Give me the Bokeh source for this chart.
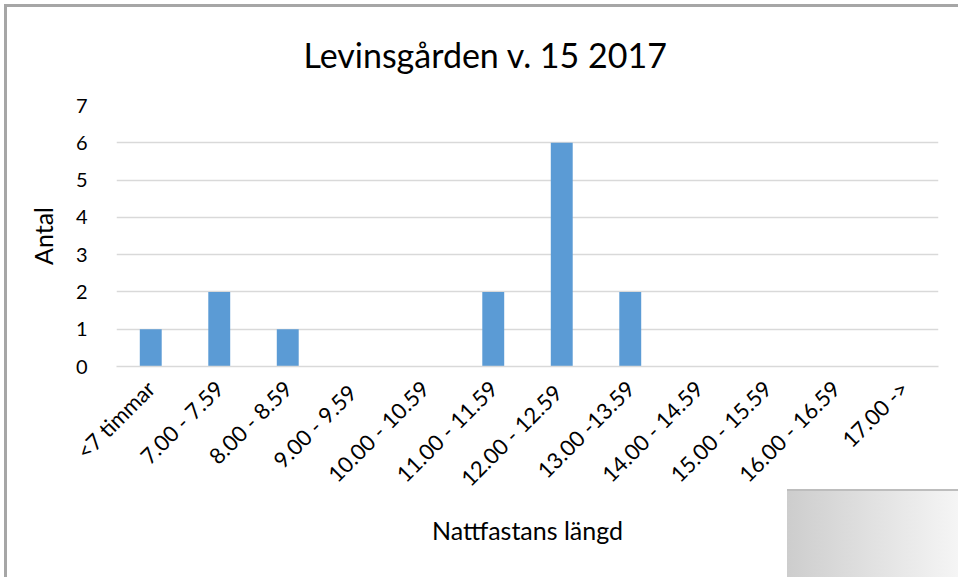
import math
from bokeh.plotting import figure
from bokeh.models import FactorRange, Range1d, FixedTicker
from bokeh.embed import file_html
from bokeh.resources import INLINE

categories = ["<7 timmar", "7.00 - 7.59", "8.00 - 8.59", "9.00 -  9.59", "10.00 - 10.59",
              "11.00 - 11.59", "12.00  - 12.59", "13.00 -13.59", "14.00 - 14.59",
              "15.00 - 15.59", "16.00 - 16.59", "17.00 ->"]
counts = [1, 2, 1, 0, 0, 2, 6, 2, 0, 0, 0, 0]
y_ticks = [0, 1, 2, 3, 4, 5, 6, 7]
title_text = "Levinsgården  v. 15 2017"
x_label = "Nattfastans längd"
y_label = "Antal"

FONT = "Lato"
W, H = 958, 577
FL, FR, FT, FB = 116, 938, 104, 366  # frame edges on the canvas

p = figure(width=W, height=H, output_backend="svg", toolbar_location=None,
           x_range=FactorRange(*categories, range_padding=0),
           y_range=Range1d(0, 7),
           min_border_left=FL, min_border_right=W - FR,
           min_border_top=FT, min_border_bottom=H - FB)
p.outline_line_color = None
p.background_fill_color = "white"
p.border_fill_alpha = 0

# chart border (left/top) and grey gradient corner box drawn as CSS backgrounds
p.styles = {
    "background-color": "white",
    "background-image": ", ".join([
        "linear-gradient(#a6a6a6, #a6a6a6)",
        "linear-gradient(#a6a6a6, #a6a6a6)",
        "linear-gradient(#bdbdbd, #bdbdbd)",
        "linear-gradient(to right, #cdcdcd, #f5f5f5)",
    ]),
    "background-position": "4px 4px, 4px 4px, 787px 489px, 787px 489px",
    "background-size": "3px 573px, 954px 3px, 171px 2px, 171px 88px",
    "background-repeat": "no-repeat",
}

# title
p.title.text = title_text
p.title.text_font = FONT
p.title.text_font_size = "34px"
p.title.text_font_style = "normal"
p.title.text_color = "#000000"
p.title.align = "left"
p.title.offset = 303 - FL
p.title.standoff = 62

p.vbar(x=categories, top=counts, width=0.32, color="#5B9BD5", line_color=None)

# axes
p.yaxis.ticker = FixedTicker(ticks=y_ticks)
p.yaxis.axis_line_color = None
p.yaxis.major_tick_line_color = None
p.yaxis.minor_tick_line_color = None
p.yaxis.major_label_text_font = FONT
p.yaxis.major_label_text_font_size = "20px"
p.yaxis.major_label_text_color = "#000000"
p.yaxis.major_label_standoff = 23
p.yaxis.axis_label = y_label
p.yaxis.axis_label_text_font = FONT
p.yaxis.axis_label_text_font_size = "25px"
p.yaxis.axis_label_text_font_style = "normal"
p.yaxis.axis_label_text_color = "#000000"
p.yaxis.axis_label_standoff = 15

p.xaxis.axis_line_color = "#d9d9d9"
p.xaxis.axis_line_width = 1.5
p.xaxis.major_tick_line_color = None
p.xaxis.minor_tick_line_color = None
p.xaxis.major_label_orientation = math.pi / 4
p.xaxis.major_label_text_font = FONT
p.xaxis.major_label_text_font_size = "22px"
p.xaxis.major_label_text_color = "#000000"
p.xaxis.major_label_standoff = 12
p.xaxis.axis_label = x_label
p.xaxis.axis_label_text_font = FONT
p.xaxis.axis_label_text_font_size = "25px"
p.xaxis.axis_label_text_font_style = "normal"
p.xaxis.axis_label_text_color = "#000000"
p.xaxis.axis_label_standoff = 11

p.xgrid.grid_line_color = None
p.ygrid.grid_line_color = "#d9d9d9"
p.ygrid.grid_line_width = 1.5

open("out.html", "w").write(file_html(p, INLINE))
